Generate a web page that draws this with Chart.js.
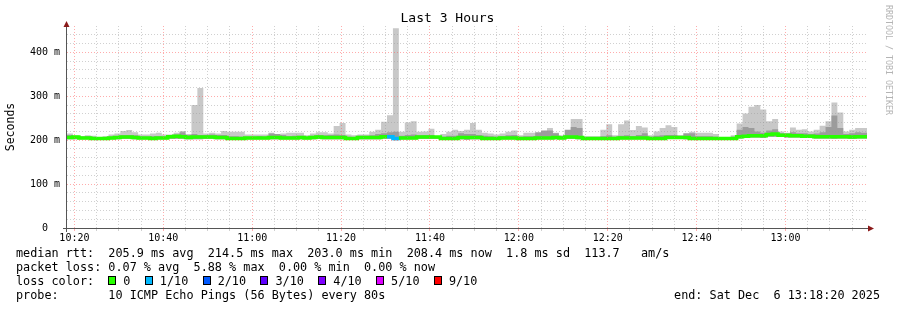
<!DOCTYPE html>
<html>
<head>
<meta charset="utf-8">
<script src="https://cdn.jsdelivr.net/npm/chart.js@4/dist/chart.umd.min.js"></script>
<style>
  html, body { margin: 0; padding: 0; background: #fff; }
  #wrap { position: relative; width: 897px; height: 310px; overflow: hidden; }
  #chart { position: absolute; left: 0; top: 0; }
  .mono { font-family: "DejaVu Sans Mono", monospace; color: #000; }
  #title { position: absolute; top: 10px; left: 0; width: 895px; text-align: center; font-size: 13px; }
  #mark { position: absolute; top: 5px; left: 884px; writing-mode: vertical-rl; font-size: 8.3px; color: #b4b4b4; letter-spacing: 0; }
  #legend { position: absolute; left: 16px; top: 247px; margin: 0; font-size: 11.8px; line-height: 13.9px; white-space: pre; }
  .box { display: inline-block; box-sizing: border-box; width: 8px; height: 9px; border: 1px solid #000; margin-right: 7px; }
  .item { margin-right: 14.4px; }
  #end { position: absolute; right: 17px; top: 288.8px; font-size: 11.8px; line-height: 13.9px; white-space: pre; }
</style>
</head>
<body>
<div id="wrap">
  <canvas id="chart" width="897" height="310"></canvas>
  <div id="title" class="mono">Last 3 Hours</div>
  <div id="mark" class="mono">RRDTOOL / TOBI OETIKER</div>
  <div id="legend" class="mono"></div>
  <div id="end" class="mono">end: Sat Dec  6 13:18:20 2025</div>
</div>
<script>
// 3 hours, one step every 80 s, starting 10:18:20
const stepMinutes = 80 / 60;
const spanMinutes = 180;

// upper edge of the smoke (slowest ping), ms
const smokeHigh = [
  215, 210, 209, 211, 210, 207, 209, 213, 215, 221, 223, 218, 213, 213, 215, 217, 213, 213, 217, 221,
  214, 280, 319, 215, 217, 215, 221, 219, 219, 219, 213, 213, 213, 213, 217, 213, 215, 217, 217, 217,
  211, 215, 218, 218, 215, 232, 239, 213, 211, 213, 213, 219, 224, 242, 257, 455, 219, 240, 243, 219,
  220, 226, 209, 214, 219, 224, 221, 224, 239, 224, 217, 215, 213, 215, 219, 222, 211, 217, 217, 216,
  220, 228, 217, 211, 222, 248, 248, 209, 209, 209, 224, 236, 211, 236, 245, 223, 232, 229, 211, 220,
  228, 234, 230, 211, 211, 219, 217, 217, 217, 214, 207, 207, 211, 238, 261, 276, 280, 270, 243, 248,
  220, 217, 229, 224, 225, 220, 224, 233, 243, 286, 263, 220, 224, 228, 228
];

// upper edge of the denser inner smoke, ms
const smokeMid = [
  212, 210, 208, 209, 207, 206, 207, 208, 209, 211, 212, 211, 208, 208, 209, 209, 208, 211, 213, 218,
  212, 214, 212, 212, 213, 212, 212, 209, 209, 208, 208, 208, 209, 208, 215, 214, 212, 209, 210, 210,
  208, 210, 211, 211, 212, 213, 212, 208, 207, 210, 210, 211, 214, 216, 218, 219, 210, 212, 213, 211,
  212, 212, 209, 208, 210, 210, 216, 214, 214, 212, 210, 209, 208, 209, 211, 212, 208, 209, 209, 218,
  222, 222, 216, 209, 224, 230, 228, 207, 207, 207, 209, 211, 208, 210, 211, 209, 212, 216, 208, 210,
  211, 212, 212, 210, 216, 216, 209, 209, 209, 208, 206, 206, 208, 224, 230, 228, 220, 217, 222, 225,
  216, 215, 218, 216, 216, 214, 215, 218, 230, 256, 228, 214, 216, 218, 217
];

// lower edge of the smoke (fastest ping), ms
const smokeLow = [
  202, 202, 202, 202, 201, 201, 201, 202, 202, 203, 203, 202, 202, 202, 201, 202, 202, 203, 203, 203,
  202, 202, 202, 203, 203, 202, 202, 201, 201, 201, 202, 202, 202, 202, 202, 202, 202, 202, 202, 202,
  202, 202, 203, 202, 202, 202, 202, 201, 201, 202, 202, 202, 202, 203, 203, 200, 202, 202, 202, 203,
  203, 203, 203, 201, 201, 201, 202, 201, 202, 202, 201, 201, 201, 202, 202, 202, 201, 201, 201, 202,
  202, 202, 202, 202, 203, 203, 202, 201, 201, 201, 201, 201, 201, 202, 202, 202, 202, 202, 201, 201,
  201, 203, 203, 203, 202, 201, 201, 201, 201, 201, 201, 201, 201, 204, 205, 206, 206, 205, 208, 208,
  207, 206, 206, 206, 205, 205, 204, 204, 204, 203, 204, 204, 203, 204, 204
];

// median rtt, ms
const medianRtt = [
  206, 207, 205, 205, 204, 204, 204, 205, 206, 207, 207, 206, 205, 205, 204, 205, 205, 208, 209, 208,
  206, 207, 207, 207, 207, 206, 206, 204, 204, 204, 205, 205, 205, 205, 206, 206, 205, 205, 205, 206,
  205, 206, 207, 206, 206, 206, 206, 204, 204, 206, 206, 206, 206, 208, 208, 204, 205, 205, 205, 207,
  207, 207, 207, 204, 204, 204, 206, 206, 206, 206, 204, 204, 204, 205, 205, 205, 204, 204, 204, 205,
  205, 205, 206, 205, 207, 207, 206, 204, 204, 204, 204, 204, 204, 205, 205, 205, 205, 205, 204, 204,
  204, 206, 206, 206, 206, 204, 204, 204, 204, 204, 204, 204, 204, 208, 209, 210, 210, 210, 213, 214,
  211, 211, 210, 210, 209, 209, 208, 208, 208, 208, 208, 208, 207, 208, 208
];

// lost pings out of 10, per step
const lossTenths = [
  0, 0, 0, 0, 0, 0, 0, 0, 0, 0, 0, 0, 0, 0, 0, 0, 0, 0, 0, 0,
  0, 0, 0, 0, 0, 0, 0, 0, 0, 0, 0, 0, 0, 0, 0, 0, 0, 0, 0, 0,
  0, 0, 0, 0, 0, 0, 0, 0, 0, 0, 0, 0, 0, 0, 1, 1, 0, 0, 0, 0,
  0, 0, 0, 0, 0, 0, 0, 0, 0, 0, 0, 0, 0, 0, 0, 0, 0, 0, 0, 0,
  0, 0, 0, 0, 0, 0, 0, 0, 0, 0, 0, 0, 0, 0, 0, 0, 0, 0, 0, 0,
  0, 0, 0, 0, 0, 0, 0, 0, 0, 0, 0, 0, 0, 0, 0, 0, 0, 0, 0, 0,
  0, 0, 0, 0, 0, 0, 0, 0, 0, 0, 0, 0, 0, 0, 0
];

const lossSteps = [0, 1, 2, 3, 4, 5, 9];
const lossLabels = ['0', '1/10', '2/10', '3/10', '4/10', '5/10', '9/10'];
const lossColors = ['#26ff00', '#00b8ff', '#0059ff', '#5e00ff', '#7e00ff', '#dd00ff', '#ff0000'];

const timeLabels = ['10:20', '10:40', '11:00', '11:20', '11:40', '12:00', '12:20', '12:40', '13:00'];
const firstLabelMinute = 5 / 3; // 10:20 is 1m40s after the start
const yLabels = ['0  ', '100 m', '200 m', '300 m', '400 m'];

const gridGray = 'rgba(150,150,150,0.45)';
const gridRed = 'rgba(255,90,90,0.5)';

function toPoints(values) {
  const pts = values.map((v, i) => ({ x: i * stepMinutes, y: v }));
  pts.push({ x: spanMinutes, y: values[values.length - 1] });
  return pts;
}

function lossColor(n) {
  let c = lossColors[0];
  lossSteps.forEach((s, i) => { if (n >= s) c = lossColors[i]; });
  return c;
}

// legend lines under the graph
const legend = document.getElementById('legend');
legend.textContent =
  'median rtt:  205.9 ms avg  214.5 ms max  203.0 ms min  208.4 ms now  1.8 ms sd  113.7   am/s\n' +
  'packet loss: 0.07 % avg  5.88 % max  0.00 % min  0.00 % now\n' +
  'loss color:  ';
lossLabels.forEach((lbl, i) => {
  const b = document.createElement('span');
  b.className = 'box';
  b.style.background = lossColors[i];
  legend.appendChild(b);
  const t = document.createElement('span');
  t.className = 'item';
  t.textContent = lbl;
  legend.appendChild(t);
});
legend.appendChild(document.createTextNode('\nprobe:       10 ICMP Echo Pings (56 Bytes) every 80s'));

// axis lines with little arrow heads, like rrdtool
const axisArrows = {
  id: 'axisArrows',
  afterDraw(chart) {
    const { ctx, chartArea: a } = chart;
    ctx.save();
    ctx.strokeStyle = '#555';
    ctx.lineWidth = 1;
    ctx.beginPath();
    ctx.moveTo(a.left - 4, a.bottom + 0.5);
    ctx.lineTo(a.right + 2, a.bottom + 0.5);
    ctx.moveTo(a.left - 0.5, a.bottom + 4);
    ctx.lineTo(a.left - 0.5, a.top - 2);
    ctx.stroke();
    ctx.fillStyle = '#8b1a1a';
    ctx.beginPath();
    ctx.moveTo(a.right + 7, a.bottom + 0.5);
    ctx.lineTo(a.right + 1, a.bottom - 2.5);
    ctx.lineTo(a.right + 1, a.bottom + 3.5);
    ctx.closePath();
    ctx.fill();
    ctx.beginPath();
    ctx.moveTo(a.left - 0.5, a.top - 5);
    ctx.lineTo(a.left - 3.5, a.top + 1);
    ctx.lineTo(a.left + 2.5, a.top + 1);
    ctx.closePath();
    ctx.fill();
    ctx.restore();
  }
};

const ctx = document.getElementById('chart').getContext('2d');
const pingChart = new Chart(ctx, {
  type: 'line',
  data: {
    datasets: [
      {
        label: 'smoke low',
        data: toPoints(smokeLow),
        stepped: true,
        borderWidth: 0,
        borderColor: 'transparent',
        pointRadius: 0,
        fill: false,
        order: 3,
      },
      {
        label: 'smoke',
        data: toPoints(smokeHigh),
        stepped: true,
        borderWidth: 0,
        borderColor: 'transparent',
        backgroundColor: '#c8c8c8',
        pointRadius: 0,
        fill: 0,
        order: 2,
      },
      {
        label: 'inner smoke',
        data: toPoints(smokeMid),
        stepped: true,
        borderWidth: 0,
        borderColor: 'transparent',
        backgroundColor: '#9c9c9c',
        pointRadius: 0,
        fill: 0,
        order: 1,
      },
      {
        label: 'median rtt',
        data: toPoints(medianRtt),
        stepped: true,
        borderWidth: 3.5,
        borderColor: lossColors[0],
        borderCapStyle: 'butt',
        borderJoinStyle: 'miter',
        pointRadius: 0,
        fill: false,
        order: 0,
        segment: {
          borderColor: (c) => lossColor(lossTenths[Math.min(c.p0DataIndex, lossTenths.length - 1)]),
        },
      },
    ],
  },
  options: {
    responsive: false,
    maintainAspectRatio: false,
    animation: false,
    layout: {
      padding: { left: 0, top: 26, right: 30, bottom: 62 },
    },
    plugins: {
      legend: { display: false },
      tooltip: { enabled: false },
      title: { display: false },
    },
    scales: {
      x: {
        type: 'linear',
        min: 0,
        max: spanMinutes,
        afterFit: (s) => { s.height = 20; },
        afterBuildTicks: (s) => {
          const t = [];
          for (let m = firstLabelMinute; m < spanMinutes; m += 5) t.push({ value: m });
          s.ticks = t;
        },
        border: { display: false, dash: [1, 2] },
        grid: {
          z: 1,
          drawTicks: true,
          tickLength: 3,
          color: (c) => (c.index % 4 === 0 ? gridRed : gridGray),
          tickColor: (c) => (c.index % 4 === 0 ? gridRed : gridGray),
        },
        ticks: {
          autoSkip: false,
          maxRotation: 0,
          padding: 1,
          color: '#000',
          font: { family: 'DejaVu Sans Mono', size: 10 },
          callback: (v, i) => (i % 4 === 0 ? timeLabels[i / 4] : ''),
        },
      },
      y: {
        min: 0,
        max: 460,
        afterFit: (s) => { s.width = 67; },
        border: { display: false, dash: [1, 2] },
        grid: {
          z: 1,
          drawTicks: false,
          color: (c) => {
            const v = c.tick.value;
            if (v === 0 || v >= 460) return 'transparent';
            return v % 100 === 0 ? gridRed : gridGray;
          },
        },
        ticks: {
          stepSize: 20,
          autoSkip: false,
          padding: 7,
          color: '#000',
          font: { family: 'DejaVu Sans Mono', size: 10 },
          callback: (v) => (v % 100 === 0 ? yLabels[v / 100] : ''),
        },
        title: {
          display: true,
          text: 'Seconds',
          color: '#000',
          padding: { top: 4, bottom: 0 },
          font: { family: 'DejaVu Sans Mono', size: 11.5 },
        },
      },
    },
  },
  plugins: [axisArrows],
});
</script>
</body>
</html>
